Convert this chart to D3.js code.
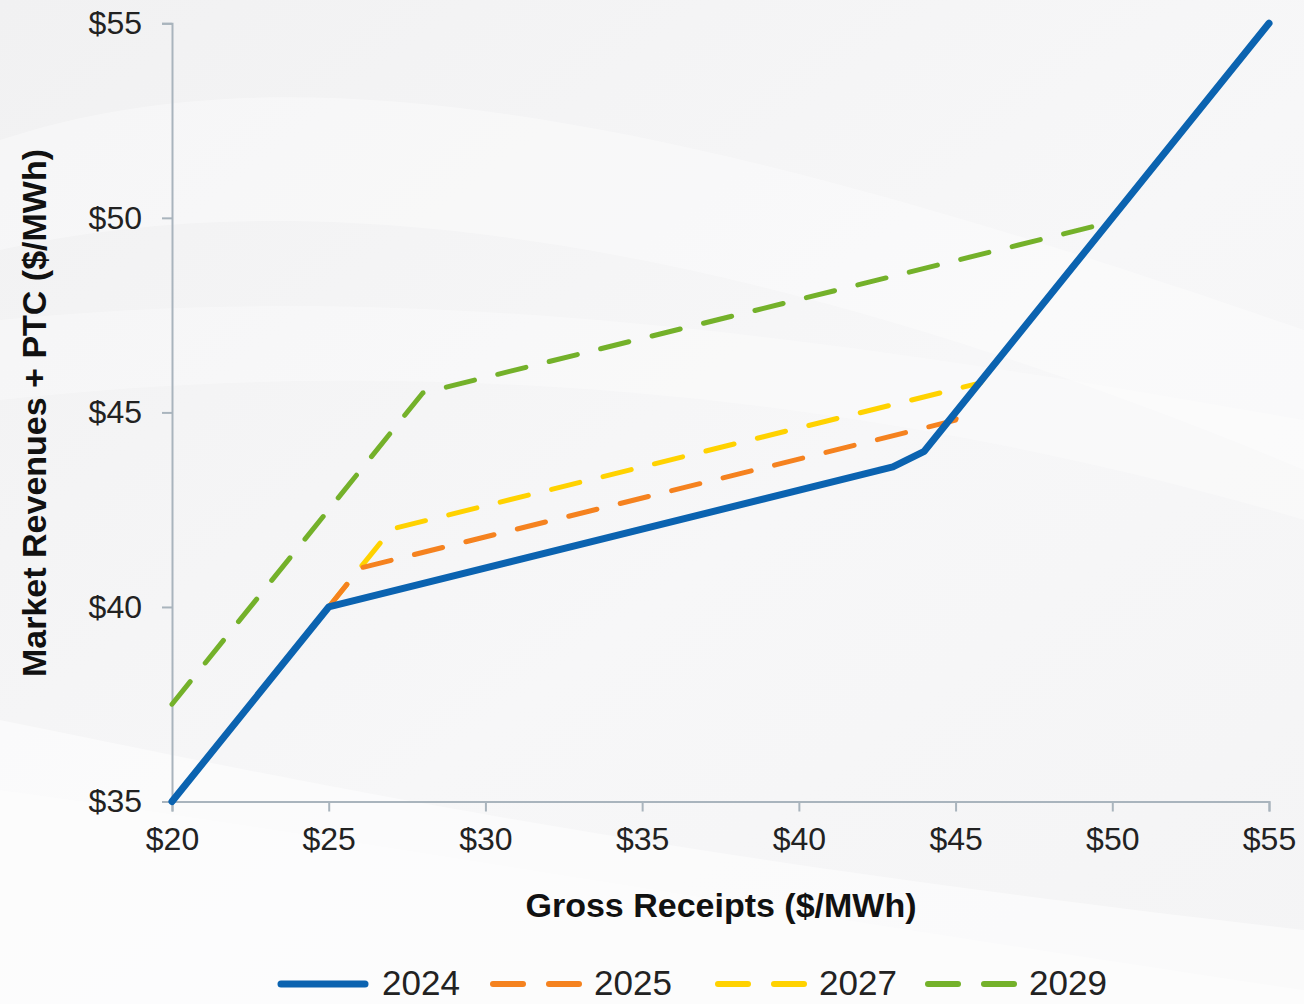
<!DOCTYPE html>
<html>
<head>
<meta charset="utf-8">
<script src="https://cdnjs.cloudflare.com/ajax/libs/d3/7.8.5/d3.min.js"></script>
<style>
  html, body { margin: 0; padding: 0; background: #f4f4f5; }
  svg { display: block; }
</style>
</head>
<body>
<svg id="chart" width="1304" height="1004"></svg>
<script>
// ---- data ----
const xTicks = [20, 25, 30, 35, 40, 45, 50, 55];
const yTicks = [35, 40, 45, 50, 55];
const seriesNames = ["2024", "2025", "2027", "2029"];
const x2024 = [20, 25, 43, 44, 55];
const y2024 = [35, 40, 43.6, 44, 55];
const x2025 = [25, 26, 45, 45.2];
const y2025 = [40, 41, 44.8, 45.2];
const x2027 = [25, 27, 45.8, 46];
const y2027 = [40, 42, 45.76, 46];
const x2029 = [20, 28, 49.75, 50];
const y2029 = [37.5, 45.5, 49.85, 50];
const xTitle = "Gross Receipts ($/MWh)";
const yTitle = "Market Revenues + PTC ($/MWh)";

// ---- styles ----
const colors = {"2024": "#0b63b0", "2025": "#f5821f", "2027": "#ffd200", "2029": "#74b12a"};
const widths = {"2024": 7, "2025": 5, "2027": 5, "2029": 5};
const dashes = {"2024": null, "2025": "29,24", "2027": "29,24", "2029": "29,24"};
const font = "'Liberation Sans', Arial, sans-serif";

const svg = d3.select("#chart");
const W = 1304, H = 1004;

// background with soft swooshes
const defs = svg.append("defs");
const grad = defs.append("linearGradient").attr("id", "bg").attr("x1", 0).attr("y1", 0).attr("x2", 1).attr("y2", 1);
grad.append("stop").attr("offset", "0%").attr("stop-color", "#f1f1f2");
grad.append("stop").attr("offset", "55%").attr("stop-color", "#f7f7f8");
grad.append("stop").attr("offset", "100%").attr("stop-color", "#f4f4f5");
svg.append("rect").attr("width", W).attr("height", H).attr("fill", "url(#bg)");
const sw = svg.append("g").attr("fill", "#ffffff");
sw.append("path").attr("opacity", 0.35)
  .attr("d", "M0,140 C300,40 700,120 1304,330 L1304,470 C800,260 350,170 0,250 Z");
sw.append("path").attr("opacity", 0.5)
  .attr("d", "M0,720 C250,770 600,850 1304,930 L1304,1004 L0,1004 Z");
sw.append("path").attr("opacity", 0.3)
  .attr("d", "M0,320 C400,280 800,330 1304,420 L1304,520 C900,400 450,350 0,400 Z");
sw.append("path").attr("opacity", 0.35)
  .attr("d", "M0,790 C300,830 700,900 1304,990 L1304,1004 L0,1004 Z");

// scales
const x = d3.scaleLinear().domain([20, 55]).range([172, 1269]);
const y = d3.scaleLinear().domain([35, 55]).range([801.5, 23.3]);

const axisColor = "#a9b4bd";

// y axis
const gy = svg.append("g").attr("transform", `translate(${x(20)},0)`)
  .call(d3.axisLeft(y).tickValues(yTicks).tickSize(10).tickPadding(20).tickFormat(d => "$" + d));
// x axis
const gx = svg.append("g").attr("transform", `translate(0,${y(35)})`)
  .call(d3.axisBottom(x).tickValues(xTicks).tickSize(10).tickPadding(16).tickFormat(d => "$" + d));
[gx, gy].forEach(g => {
  g.select(".domain").attr("stroke", axisColor).attr("stroke-width", 2);
  g.selectAll(".tick line").attr("stroke", axisColor).attr("stroke-width", 2);
  g.selectAll(".tick text").attr("fill", "#222").style("font-family", font).style("font-size", "32px");
});

// lines
const seriesData = {
  "2024": x2024.map((v, i) => [v, y2024[i]]),
  "2025": x2025.map((v, i) => [v, y2025[i]]),
  "2027": x2027.map((v, i) => [v, y2027[i]]),
  "2029": x2029.map((v, i) => [v, y2029[i]])
};
const line = d3.line().x(d => x(d[0])).y(d => y(d[1]));
const drawOrder = seriesNames.slice().reverse();
svg.append("g").selectAll("path").data(drawOrder).join("path")
  .attr("d", s => line(seriesData[s]))
  .attr("fill", "none")
  .attr("stroke", s => colors[s])
  .attr("stroke-width", s => widths[s])
  .attr("stroke-dasharray", s => dashes[s])
  .attr("stroke-linecap", "round")
  .attr("stroke-linejoin", "round");

// axis titles
svg.append("text").attr("x", 721).attr("y", 917).attr("text-anchor", "middle")
  .style("font-family", font).style("font-size", "34px").style("font-weight", "bold").attr("fill", "#111")
  .text(xTitle);
svg.append("text").attr("transform", "translate(46,413) rotate(-90)").attr("text-anchor", "middle")
  .style("font-family", font).style("font-size", "34px").style("font-weight", "bold").attr("fill", "#111")
  .text(yTitle);

// legend
const legendX = [278, 490, 715, 925];
const lg = svg.append("g");
seriesNames.forEach((s, i) => {
  const g = lg.append("g").attr("transform", `translate(${legendX[i]},984)`);
  if (dashes[s]) {
    g.append("line").attr("x1", 3).attr("x2", 33).attr("y1", 0).attr("y2", 0)
      .attr("stroke", colors[s]).attr("stroke-width", 6).attr("stroke-linecap", "round");
    g.append("line").attr("x1", 59).attr("x2", 89).attr("y1", 0).attr("y2", 0)
      .attr("stroke", colors[s]).attr("stroke-width", 6).attr("stroke-linecap", "round");
  } else {
    g.append("line").attr("x1", 3).attr("x2", 87).attr("y1", 0).attr("y2", 0)
      .attr("stroke", colors[s]).attr("stroke-width", 7).attr("stroke-linecap", "round");
  }
  g.append("text").attr("x", 104).attr("y", 11)
    .style("font-family", font).style("font-size", "35px").attr("fill", "#222").text(s);
});
</script>
</body>
</html>
